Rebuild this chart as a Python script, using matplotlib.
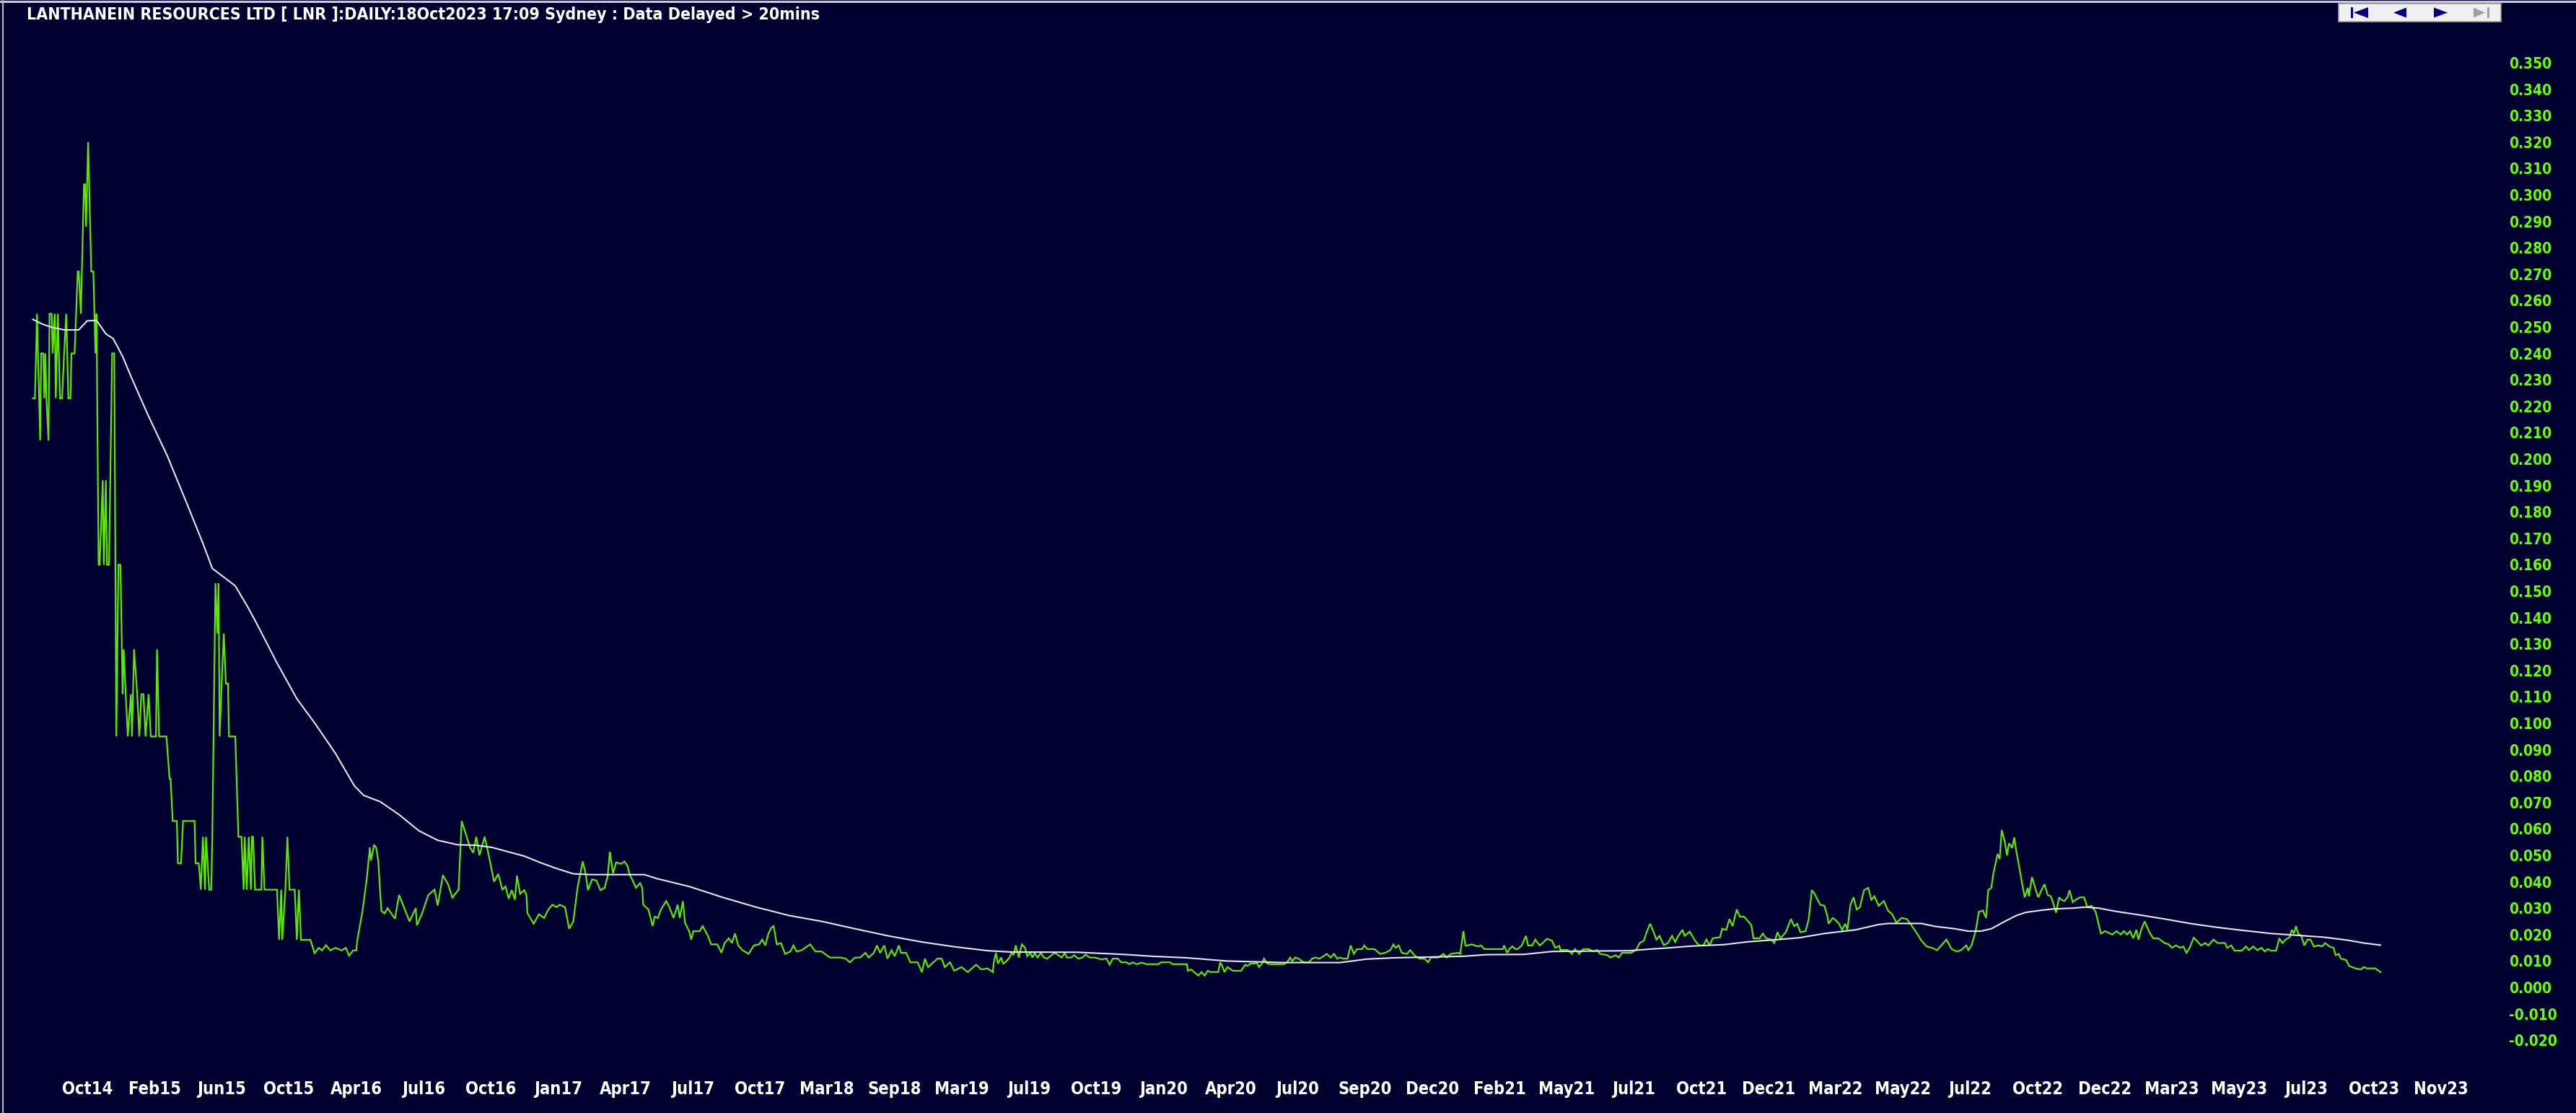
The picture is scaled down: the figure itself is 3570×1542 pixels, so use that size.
import numpy as np
import matplotlib
matplotlib.use("Agg")
import matplotlib.pyplot as plt
from matplotlib import font_manager
from matplotlib.patches import Rectangle, Polygon
from matplotlib.lines import Line2D

# 图表标题与坐标标签
title = "LANTHANEIN RESOURCES LTD [ LNR ]:DAILY:18Oct2023 17:09 Sydney : Data Delayed > 20mins"
month_labels = ["Oct14", "Feb15", "Jun15", "Oct15", "Apr16", "Jul16", "Oct16", "Jan17", "Apr17",
                "Jul17", "Oct17", "Mar18", "Sep18", "Mar19", "Jul19", "Oct19", "Jan20", "Apr20",
                "Jul20", "Sep20", "Dec20", "Feb21", "May21", "Jul21", "Oct21", "Dec21", "Mar22",
                "May22", "Jul22", "Oct22", "Dec22", "Mar23", "May23", "Jul23", "Oct23", "Nov23"]
first_label_bar = 52.2
bars_per_label = 64.45

# 收盘价 (交易日序号, 价格)
price_x = [0, 2, 4, 7, 8, 10, 11, 12, 13, 15, 16, 18, 19, 21, 22, 24, 26, 28, 30, 32, 34, 36, 37, 40,
           43, 44, 46, 48, 49, 50, 51, 53, 56, 58, 60, 61, 63, 64, 67, 68, 70, 71, 73, 76, 78, 80,
           82, 84, 86, 87, 89, 91, 94, 95, 97, 100, 102, 104, 106, 108, 111, 113, 118, 119, 121,
           128, 131, 132, 134, 138, 139, 142, 144, 155, 156, 159, 161, 163, 165, 166, 169, 171,
           172, 175, 177, 178, 179, 181, 183, 185, 187, 188, 194, 197, 200, 202, 203, 205, 207,
           209, 210, 211, 213, 219, 220, 222, 234, 236, 238, 239, 242, 244, 246, 251, 253, 255,
           257, 266, 270, 274, 277, 281, 285, 290, 296, 300, 303, 307, 310, 311, 316, 320, 323,
           324, 327, 329, 331, 334, 337, 340, 347, 351, 356, 361, 367, 368, 373, 379, 385, 388,
           393, 398, 402, 408, 411, 415, 419, 422, 425, 428, 433, 438, 442, 446, 450,
           453, 456, 459, 462, 464, 467, 471, 473, 474, 480, 485, 490, 494, 498, 502, 505, 510,
           514, 518, 522, 527, 530, 532, 536, 540, 544, 548, 551, 553, 556, 559, 564, 567, 570,
           572, 576, 578, 582, 584, 585, 590, 594, 596, 599, 602, 607, 610, 614, 618, 620, 623,
           625, 629, 631, 633, 639, 642, 647, 650, 656, 660, 663, 667, 670, 673, 676, 680, 686,
           691, 696, 699, 702, 705, 708, 710, 713, 717, 721, 726, 729, 732, 737, 742, 745, 750,
           756, 759, 764, 774, 779, 783, 788, 793, 798, 801, 806, 809, 812, 816, 819, 823, 826,
           830, 832, 837, 841, 848, 852, 855, 858, 863, 867, 871, 874, 879, 883, 890, 896, 904,
           909, 915, 920, 921, 923, 925, 928, 930, 932, 936, 938,
           940, 942, 945, 947, 948, 951, 953, 956, 958, 960, 963, 966, 969, 972, 975, 979, 983,
           986, 989, 991, 995, 998, 1002, 1006, 1009, 1013, 1018, 1024, 1029, 1032, 1035, 1040,
           1043, 1048, 1051, 1054, 1058, 1063, 1067, 1079, 1081, 1090, 1092, 1106, 1107, 1110,
           1113, 1117, 1120, 1123, 1126, 1129, 1136, 1138, 1140, 1142, 1145, 1150, 1158, 1162,
           1164, 1167, 1171, 1173, 1175, 1178, 1180, 1183, 1186, 1199, 1202, 1205, 1207, 1210,
           1213, 1218, 1223, 1226, 1229, 1233, 1237, 1240, 1244, 1247, 1250, 1253, 1256, 1260,
           1263, 1266, 1269, 1274, 1276, 1279, 1286, 1291, 1296, 1301, 1304, 1306, 1309, 1312,
           1317, 1320, 1325, 1329, 1334, 1337, 1340, 1347, 1352, 1355, 1359, 1366, 1368, 1371,
           1373, 1375, 1379, 1382, 1385, 1388, 1391, 1399, 1409, 1410, 1413, 1415, 1418, 1421,
           1423, 1427, 1431, 1433, 1437, 1440, 1444, 1447, 1451, 1456, 1459, 1463, 1464, 1471,
           1475, 1478, 1482, 1486, 1491, 1496, 1499, 1502, 1509, 1512, 1517, 1520, 1523, 1532,
           1537, 1540, 1544, 1547, 1550, 1553, 1556, 1559, 1563, 1567, 1571, 1574, 1577, 1581,
           1583, 1588, 1593, 1597, 1601, 1604, 1607, 1610, 1617, 1619, 1623, 1626, 1629, 1633,
           1636, 1640, 1644, 1647, 1649, 1655, 1658, 1661, 1666, 1669, 1672, 1675, 1680, 1685,
           1688, 1691, 1694, 1699, 1702, 1705, 1707, 1710, 1713, 1717, 1720, 1721, 1725, 1728,
           1731, 1734, 1737, 1739, 1742, 1745, 1748, 1751, 1755, 1759, 1762, 1765, 1769, 1774,
           1778, 1782, 1786, 1791, 1796, 1801, 1805, 1810, 1815, 1820, 1825, 1829, 1834, 1839,
           1844, 1848, 1853, 1855, 1858, 1862, 1865, 1869, 1872, 1874, 1877, 1879, 1883, 1885,
           1887, 1890, 1892, 1894, 1897, 1899, 1901, 1904, 1906, 1909, 1912, 1913, 1916, 1919,
           1922, 1925, 1928, 1931, 1934, 1936, 1939, 1942, 1944, 1947, 1950, 1952, 1955, 1958,
           1962, 1966, 1969, 1973, 1977, 1982, 1986, 1993, 1997, 2001, 2004, 2007, 2010, 2013,
           2016, 2018, 2021, 2024, 2028, 2032, 2037, 2040, 2043, 2047, 2050, 2054, 2058, 2061,
           2064, 2067, 2071, 2075, 2078, 2082, 2085, 2090, 2094, 2101, 2103, 2107, 2110, 2117,
           2121, 2124, 2128, 2132, 2136, 2139, 2142, 2145, 2150, 2153, 2156, 2159, 2163, 2165,
           2167, 2169, 2171, 2174, 2177, 2180, 2183, 2186, 2191, 2194, 2197, 2201, 2205, 2207,
           2210, 2212, 2217, 2220, 2226, 2231, 2234, 2237, 2245, 2250]
price_y = [0.223, 0.223, 0.255, 0.207, 0.240, 0.240, 0.223, 0.240, 0.223, 0.207, 0.255, 0.255, 0.240,
           0.255, 0.223, 0.255, 0.223, 0.223, 0.240, 0.255, 0.223, 0.223, 0.240, 0.240, 0.271, 0.271,
           0.255, 0.288, 0.304, 0.304, 0.288, 0.320, 0.271, 0.271, 0.240, 0.255, 0.160, 0.160, 0.192,
           0.160, 0.192, 0.160, 0.160, 0.240, 0.240, 0.095, 0.160, 0.160, 0.111, 0.128, 0.111, 0.095,
           0.111, 0.095, 0.128, 0.111, 0.095, 0.111, 0.111, 0.095, 0.111, 0.095, 0.095, 0.128, 0.095,
           0.095, 0.079, 0.079, 0.063, 0.063, 0.047, 0.047, 0.063, 0.063, 0.047, 0.047, 0.037, 0.057,
           0.037, 0.057, 0.037, 0.037, 0.057, 0.153, 0.134, 0.153, 0.095, 0.115, 0.134, 0.115, 0.115,
           0.095, 0.095, 0.057, 0.057, 0.037, 0.057, 0.037, 0.057, 0.037, 0.057, 0.057, 0.037, 0.037,
           0.057, 0.037, 0.037, 0.018, 0.037, 0.018, 0.037, 0.057, 0.037, 0.037, 0.018, 0.037, 0.018,
           0.018, 0.013, 0.015, 0.014, 0.016, 0.014, 0.015, 0.014, 0.015, 0.012, 0.014, 0.014, 0.018,
           0.029, 0.041, 0.053, 0.048, 0.054, 0.053, 0.048, 0.029, 0.028, 0.030, 0.026, 0.035, 0.030,
           0.025, 0.030, 0.0235, 0.028, 0.035, 0.037, 0.031, 0.0425, 0.039, 0.034, 0.037, 0.063,
           0.058, 0.053, 0.051, 0.057, 0.050, 0.057, 0.048, 0.040, 0.043, 0.037,
           0.0382, 0.0336, 0.0368, 0.0332, 0.0423, 0.0354, 0.0368, 0.035, 0.0281, 0.0241, 0.0277,
           0.0263, 0.0295, 0.0313, 0.0304, 0.0313, 0.0304, 0.0222, 0.0250, 0.0377, 0.0477, 0.0427,
           0.0368, 0.0409, 0.0405, 0.0368, 0.0377, 0.0423, 0.0514, 0.0432, 0.0473, 0.0468, 0.0477,
           0.0459, 0.0427, 0.0395, 0.0377, 0.0395, 0.0377, 0.0313, 0.0295, 0.0232, 0.0268, 0.0263,
           0.0295, 0.0327, 0.0304, 0.0263, 0.0313, 0.0263, 0.0327, 0.0245, 0.0213, 0.0181, 0.0213,
           0.0213, 0.0232, 0.0195, 0.0163, 0.0163, 0.0131, 0.0168, 0.0186, 0.0168, 0.0204, 0.0159,
           0.0141, 0.0127, 0.0159, 0.0163, 0.0181, 0.0159, 0.0204, 0.0227, 0.0232, 0.0163, 0.0168,
           0.0127, 0.0136, 0.0159, 0.0136, 0.0141, 0.0155, 0.0163, 0.0136, 0.0136, 0.0127, 0.0113,
           0.0113, 0.0109, 0.0095, 0.0113, 0.0113, 0.0131, 0.0113, 0.0131, 0.0159, 0.0131, 0.0159,
           0.0109, 0.0141, 0.0118, 0.0159, 0.0131, 0.0131, 0.0095, 0.0095, 0.0058, 0.0109, 0.0077,
           0.0095, 0.0109, 0.0109, 0.0077, 0.0095, 0.0063, 0.0077, 0.0058, 0.0086, 0.0068, 0.0072,
           0.0058, 0.0095, 0.0131, 0.0090, 0.0113, 0.0090, 0.0095, 0.0113, 0.0131,
           0.0122, 0.0159, 0.0113, 0.0150, 0.0163, 0.0150, 0.0118, 0.0131, 0.0113, 0.0131, 0.0113,
           0.0131, 0.0113, 0.0109, 0.0118, 0.0131, 0.0122, 0.0113, 0.0131, 0.0113, 0.0113, 0.0122,
           0.0109, 0.0113, 0.0124, 0.0113, 0.0113, 0.0106, 0.0109, 0.0086, 0.0109, 0.0109, 0.0095,
           0.0095, 0.0088, 0.0095, 0.0088, 0.0094, 0.0088, 0.0088, 0.0095, 0.0095, 0.0088, 0.0088,
           0.0063, 0.0068, 0.0058, 0.0045, 0.0058, 0.0045, 0.0063, 0.0058, 0.0058, 0.0095, 0.0081,
           0.0058, 0.0077, 0.0063, 0.0063, 0.0086, 0.0081, 0.0090, 0.0090, 0.0095, 0.0077, 0.0090,
           0.0109, 0.0090, 0.0088, 0.0088, 0.0095, 0.0113, 0.0100, 0.0113, 0.0109, 0.0095, 0.0095,
           0.0109, 0.0113, 0.0109, 0.0118, 0.0127, 0.0113, 0.0127, 0.0109, 0.0113, 0.0109, 0.0109,
           0.0159, 0.0127, 0.0145, 0.0145, 0.0159, 0.0145, 0.0145, 0.0127, 0.0131, 0.0141, 0.0163,
           0.0150, 0.0159, 0.0131, 0.0127, 0.0141, 0.0118, 0.0109, 0.0109, 0.0095, 0.0113, 0.0113,
           0.0127, 0.0113, 0.0127, 0.0131, 0.0127, 0.0213, 0.0159, 0.0159, 0.0163, 0.0159, 0.0155,
           0.0159, 0.0145, 0.0145, 0.0145, 0.0159, 0.0131, 0.0145, 0.0155, 0.0145,
           0.0145, 0.0159, 0.0195, 0.0159, 0.0159, 0.0181, 0.0159, 0.0168, 0.0184, 0.0177, 0.0150,
           0.0157, 0.0142, 0.0142, 0.0127, 0.0145, 0.0127, 0.0145, 0.0145, 0.0136, 0.0142, 0.0127,
           0.0122, 0.0113, 0.0122, 0.0113, 0.0131, 0.0131, 0.0145, 0.0168, 0.0177, 0.0213, 0.0241,
           0.0213, 0.0181, 0.0195, 0.0160, 0.0168, 0.0195, 0.0172, 0.0195, 0.0218, 0.0195, 0.0211,
           0.0177, 0.0159, 0.0159, 0.0181, 0.0159, 0.0186, 0.0190, 0.0222, 0.0218, 0.0259, 0.0232,
           0.0295, 0.0268, 0.0268, 0.0250, 0.0236, 0.0186, 0.0186, 0.0204, 0.0186, 0.0181, 0.0168,
           0.0209, 0.0186, 0.0209, 0.0259, 0.0232, 0.0241, 0.0209, 0.0213, 0.0259, 0.0368, 0.0359,
           0.0336, 0.0313, 0.0309, 0.0268, 0.0241, 0.0263, 0.0254, 0.0241, 0.0218, 0.0241, 0.0218,
           0.0313, 0.0341, 0.0295, 0.0304, 0.0368, 0.0377, 0.0332, 0.0345, 0.0309, 0.0327, 0.0291,
           0.0277, 0.0245, 0.0263, 0.0259, 0.0232, 0.0209, 0.0177, 0.0155, 0.0150, 0.0141, 0.0159,
           0.0181, 0.0145, 0.0136, 0.0141, 0.0159, 0.0141, 0.0159, 0.0213, 0.0286, 0.0291, 0.0263,
           0.0368, 0.0377, 0.0432, 0.0505, 0.0486, 0.0596, 0.0550, 0.0500, 0.0546, 0.0528, 0.0568,
           0.0514, 0.0450, 0.0405, 0.0341, 0.0377, 0.0345, 0.0418, 0.0377, 0.0341, 0.0368, 0.0391,
           0.0350, 0.0345, 0.0323, 0.0283, 0.0341, 0.0332, 0.0327, 0.0341, 0.0368, 0.0323, 0.0332,
           0.0341, 0.0341, 0.0304, 0.0309, 0.0286, 0.0204, 0.0213, 0.0200, 0.0213, 0.0200, 0.0213,
           0.0200, 0.0213, 0.0186, 0.0218, 0.0181, 0.0222, 0.0250, 0.0213, 0.0186, 0.0186, 0.0177,
           0.0168, 0.0163, 0.0150, 0.0159, 0.0150, 0.0155, 0.0131, 0.0150, 0.0188, 0.0172, 0.0159,
           0.0168, 0.0159, 0.0181, 0.0168, 0.0168, 0.0150, 0.0159, 0.0139, 0.0139, 0.0155, 0.0141,
           0.0155, 0.0141, 0.0150, 0.0136, 0.0145, 0.0139, 0.0139, 0.0186, 0.0168, 0.0181, 0.0190,
           0.0218, 0.0204, 0.0232, 0.0204, 0.0195, 0.0159, 0.0181, 0.0181, 0.0155, 0.0159, 0.0155,
           0.0168, 0.0155, 0.0150, 0.0122, 0.0127, 0.0109, 0.0104, 0.0081, 0.0072, 0.0068, 0.0077,
           0.0072, 0.0072, 0.0058]

# 移动平均线 (白色)
ma_x = [0, 9, 18, 30, 44, 52, 61, 70, 77, 86, 95, 110, 129, 148, 163, 172, 185, 194, 206, 215, 234,
        253, 271, 290, 308, 317, 333, 351, 370, 388, 407, 425, 440, 455, 471, 486, 502, 518, 534,
        586, 598, 629, 661, 693, 725, 756, 788, 820, 852, 883, 915, 937, 1001, 1045, 1072, 1106,
        1122, 1144, 1199, 1253, 1278, 1304, 1372, 1393, 1429, 1456, 1531, 1550, 1569, 1588, 1621,
        1642, 1672, 1693, 1717, 1747, 1769, 1778, 1810, 1823, 1842, 1855, 1867, 1877, 1890, 1901,
        1910, 1923, 1936, 1955, 1967, 1980, 1996, 2018, 2043, 2069, 2094, 2120, 2145, 2171, 2196,
        2218, 2234, 2250]
ma_y = [0.2529, 0.2511, 0.2499, 0.2489, 0.2489, 0.2523, 0.2525, 0.2474, 0.2456, 0.2389, 0.2304,
        0.2170, 0.2011, 0.1828, 0.1681, 0.1586, 0.1547, 0.1520, 0.1440, 0.1374, 0.1228, 0.1093,
        0.0996, 0.0886, 0.0764, 0.0727, 0.0703, 0.0654, 0.0593, 0.0557, 0.0540, 0.0538, 0.0530,
        0.0514, 0.0497, 0.0473, 0.0450, 0.0430, 0.0427, 0.0427, 0.0412, 0.0382, 0.0341, 0.0304,
        0.0272, 0.0250, 0.0222, 0.0195, 0.0172, 0.0154, 0.0139, 0.0134, 0.0133, 0.0125, 0.0118,
        0.0112, 0.0107, 0.0100, 0.0094, 0.0094, 0.0107, 0.0112, 0.0118, 0.0124, 0.0125, 0.0136,
        0.0139, 0.0145, 0.0150, 0.0156, 0.0162, 0.0172, 0.0181, 0.0188, 0.0204, 0.0218, 0.0238,
        0.0242, 0.0242, 0.0231, 0.0222, 0.0213, 0.0213, 0.0222, 0.0250, 0.0272, 0.0284, 0.0291,
        0.0297, 0.0300, 0.0304, 0.0300, 0.0288, 0.0275, 0.0259, 0.0241, 0.0227, 0.0215, 0.0204,
        0.0197, 0.0190, 0.0179, 0.0168, 0.0160]

y_ticks = np.round(np.arange(-0.020, 0.3501, 0.010), 3)

# 颜色
bg = "#000030"
green_line = "#5fe600"
green_text = "#66ff00"
ma_color = "#e6e6f2"

# 字体：优先使用窄体 (DejaVu Sans Condensed)
has_condensed = any(f.name == "DejaVu Sans" and f.stretch == "condensed" and f.weight in (700, "bold")
                    for f in font_manager.fontManager.ttflist)
if has_condensed:
    stretch = "condensed"
    fscale = 1.0
else:
    stretch = "normal"
    fscale = 0.9
font_kw = dict(family="DejaVu Sans", fontweight="bold", fontstretch=stretch)

W, H = 3570, 1542
fig = plt.figure(figsize=(W / 100, H / 100), dpi=100, facecolor=bg)

# 绘图区 (像素位置换算为比例)
ax_left, ax_right, ax_top, ax_bottom = 0, 3460, 40, 1465
ax = fig.add_axes([ax_left / W, (H - ax_bottom) / H, (ax_right - ax_left) / W, (ax_bottom - ax_top) / H])
ax.set_facecolor(bg)
for sp in ax.spines.values():
    sp.set_visible(False)

ax.plot(price_x, price_y, color=green_line, lw=1.6, solid_joinstyle="miter")
ax.plot(ma_x, ma_y, color=ma_color, lw=1.5)

ax.set_xlim(-31.47, 2361.3)
ax.set_ylim(-0.026503, 0.36284)

# y轴刻度在右侧
ax.yaxis.tick_right()
ax.set_yticks(y_ticks)
ax.set_yticklabels([f"{t:.3f}" for t in y_ticks], color=green_text, fontsize=15 * fscale,
                   ha="left", **font_kw)
ax.tick_params(axis="y", length=0, pad=12)

# x轴月份标签
label_pos = [first_label_bar + i * bars_per_label for i in range(len(month_labels))]
ax.set_xticks(label_pos)
ax.set_xticklabels(month_labels, color="white", fontsize=17 * fscale, **font_kw)
ax.tick_params(axis="x", length=0, pad=23)

# 标题
fig.text(37 / W, 1 - 20 / H, title, color="white", fontsize=16.6 * fscale,
         ha="left", va="center", **font_kw)

# 边框 (顶部与左侧的灰线)
fig.add_artist(Line2D([0, 1], [1 - 1.5 / H, 1 - 1.5 / H], color="#c8c8c8", lw=2.2))
fig.add_artist(Line2D([3.5 / W, 3.5 / W], [0, 1], color="#b4b4b4", lw=1.6))


# 右上角的翻页按钮
def px(x, y):
    return (x / W, 1 - y / H)


fig.add_artist(Rectangle(px(3241, 30), 225 / W, 25 / H, facecolor="#f0f0f0", edgecolor="#a0a0a0",
                         lw=1.2, transform=fig.transFigure))
navy = "#000080"
grey = "#a0a0a0"
fig.add_artist(Rectangle(px(3258, 25), 3 / W, 15 / H, facecolor=navy, edgecolor="none",
                         transform=fig.transFigure))
fig.add_artist(Polygon([px(3262, 17.5), px(3282, 10), px(3282, 25)], closed=True, facecolor=navy,
                       edgecolor="none", transform=fig.transFigure))
fig.add_artist(Polygon([px(3317, 17.5), px(3335, 10.5), px(3335, 24.5)], closed=True, facecolor=navy,
                       edgecolor="none", transform=fig.transFigure))
fig.add_artist(Polygon([px(3373, 10.5), px(3392, 17.5), px(3373, 24.5)], closed=True, facecolor=navy,
                       edgecolor="none", transform=fig.transFigure))
fig.add_artist(Polygon([px(3428, 10.5), px(3444, 17.5), px(3428, 24.5)], closed=True, facecolor=grey,
                       edgecolor="none", transform=fig.transFigure))
fig.add_artist(Rectangle(px(3447, 25), 3 / W, 15 / H, facecolor=grey, edgecolor="none",
                         transform=fig.transFigure))

fig.savefig("out.png", dpi=100, facecolor=bg)
